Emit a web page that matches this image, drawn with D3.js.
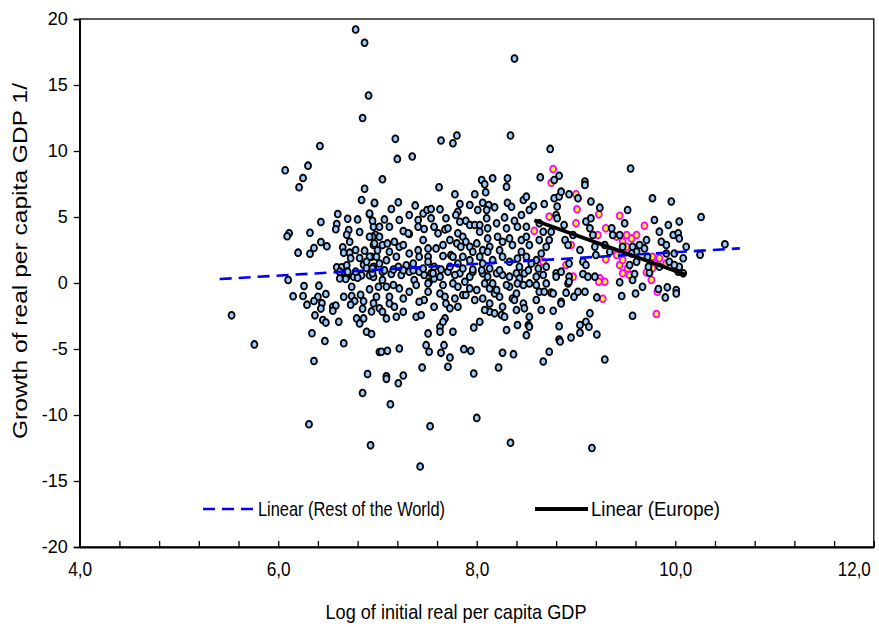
<!DOCTYPE html>
<html><head><meta charset="utf-8">
<script src="https://cdn.jsdelivr.net/npm/d3@7"></script>
<style>body{margin:0;background:#fff}svg{display:block}</style>
</head><body>
<svg id="c" width="879" height="627"></svg>
<script>
const xTicks = [4, 6, 8, 10, 12];
const yTicks = [-20, -15, -10, -5, 0, 5, 10, 15, 20];
const xTitle = "Log of initial real per capita GDP";
const yTitle = "Growth of real per capita GDP 1/";
const legendLabels = ["Linear (Rest of the World)", "Linear (Europe)"];

// Rest of the World: [log initial GDP, growth]
const rowPoints = [
[6.78,19.2],[6.87,18.2],[8.38,17.0],[6.91,14.2],[6.85,12.5],
[7.80,11.17],[8.34,11.17],[7.18,10.92],[7.64,10.79],[7.76,10.59],[7.20,9.40],[7.35,9.58],[8.74,10.16],
[6.42,10.38],[6.07,8.54],[6.30,8.89],[6.25,7.95],[6.21,7.25],[6.87,7.14],[6.84,6.29],[6.97,6.04],[6.60,5.23],[6.70,4.87],[6.80,4.82],[6.92,5.2],[6.43,4.62],[6.59,4.47],[6.58,4.07],[6.71,4.02],[6.82,3.86],[6.11,3.76],[6.09,3.54],[6.32,3.81],[6.96,4.27],[6.98,3.66],[6.69,3.66],[6.72,3.13],[6.43,3.1],[6.49,2.78],[6.36,2.65],[6.20,2.3],[6.32,2.22],[6.65,2.7],[6.66,2.3],[6.72,2.3],[6.78,2.5],[6.87,2.45],[6.96,2.88],[6.95,3.5],[6.73,1.87],[6.82,1.89],[6.94,1.99],[6.59,1.19],[6.64,1.19],[6.69,1.34],[6.86,1.39],[6.89,1.14],[6.96,1.23],[6.63,0.48],[6.69,0.48],[6.76,0.48],[6.84,0.58],[6.92,0.58],[6.10,0.23],
[6.26,-0.23],[6.41,-0.2],[6.15,-1.0],[6.25,-0.98],[6.40,-1.04],[6.48,-0.83],[6.29,-1.64],[6.36,-1.36],[6.44,-1.54],[6.43,-1.94],[6.37,-2.45],[6.55,-1.8],[6.58,-1.7],[6.55,-2.1],[6.45,-2.8],[6.48,-3.0],[6.61,-2.93],[6.66,-1.04],[6.74,-0.98],[6.77,-1.36],[6.73,-1.64],[6.83,-0.89],[6.86,-1.39],[6.92,-0.48],[6.96,-1.54],[6.85,-1.95],[6.94,-2.15],[6.79,-2.68],[6.86,-2.68],[6.82,-3.06],[6.89,-3.69],[6.94,-3.86],[5.53,-2.45],[5.76,-4.65],[6.34,-3.81],[6.47,-4.39],[6.66,-4.57],[6.36,-5.91],[7.02,-5.23],[6.90,-6.89],[6.85,-8.33],[6.31,-10.7],[6.70,0.86],[6.62,0.35],[6.68,0.30],[6.74,-0.28],[6.80,0.40],[6.96,0.45],[7.01,-0.28],
[6.95,0.73],[7.05,0.86],[7.14,0.68],[7.24,0.61],[7.32,0.86],[7.05,0.23],[7.09,-0.28],[7.16,-0.15],[7.22,-0.41],[7.02,-1.92],[7.05,-2.18],[7.09,-2.68],[7.12,-1.55],[7.17,-1.80],[7.19,-2.56],[7.26,-2.18],[7.26,-1.17],[7.32,-0.66],[7.37,0.23],[7.39,-0.15],[7.39,-2.56],[7.44,-2.43],[7.47,-1.29],[7.51,-0.66],[7.52,0.10],[7.54,0.73],[7.57,0.35],[7.63,-0.79],[7.63,-3.32],[7.63,-3.70],[7.51,-3.82],[7.68,-1.04],[7.69,-1.55],[7.68,-2.68],[7.66,-2.94],[7.73,-1.92],[7.76,-0.03],[7.76,-3.70],[7.81,-1.80],[7.81,-0.28],[7.83,0.73],[7.86,-0.91],[7.89,-0.91],[7.88,0.10],[7.93,0.48],[7.93,-0.41],[8.00,-0.53],[7.98,-1.29],[8.03,-2.94],[7.97,-3.37],[8.06,0.73],[8.08,-0.03],[8.13,-0.41],[8.16,-0.03],[8.18,-0.79],[8.20,-0.53],[8.13,-1.55],[8.13,-2.18],[8.18,-2.30],[8.23,-1.04],[8.25,-2.43],[8.28,-2.56],[8.30,-3.57],[8.33,0.48],[8.33,-0.28],[8.40,0.73],[8.43,0.35],[8.48,0.73],[8.53,-0.03],[8.60,0.48],[8.67,0.61],[8.70,-0.03],[8.63,-0.66],[8.68,-0.66],[8.40,-0.79],[8.36,-1.17],[8.40,-2.05],[8.47,-1.55],[8.48,-1.92],[8.53,-2.56],[8.52,-3.19],[8.53,-3.32],[8.50,-3.95],[8.41,-3.19],[8.38,-1.29],
[7.04,-5.21],[7.10,-5.14],[7.22,-4.96],[7.49,-4.71],[7.52,-5.21],[7.64,-5.29],[7.67,-4.71],[7.73,-5.64],[7.71,-6.35],[7.87,-5.01],[7.94,-5.14],[7.45,-6.40],[7.09,-7.06],[7.09,-7.26],[7.26,-7.01],[7.21,-7.59],[7.13,-9.19],[7.53,-10.85],[8.00,-10.22],[7.97,-6.86],[8.22,-6.40],[8.26,-5.29],[8.37,-5.39],[8.67,-5.95],[8.73,-5.21],
[6.93,-12.30],[7.43,-13.9],[8.34,-12.1],[9.16,-12.5],
[8.80,0.73],[8.80,0.48],[8.85,0.86],[8.93,0.48],[9.07,0.68],[9.12,0.48],[9.19,0.48],[9.44,0.05],[9.59,0.68],[9.57,0.23],[9.67,-0.28],[9.74,0.78],[9.83,-0.46],[9.92,-0.33],[9.90,-1.09],[10.01,-0.53],[10.01,-0.79],[10.03,0.86],[10.08,0.73],[8.75,-0.73],[8.77,-0.79],[8.90,-0.73],[8.92,-0.03],[8.93,0.10],[8.98,-1.04],[9.02,-0.66],[9.09,-0.66],[8.85,-1.42],[8.85,-1.55],[8.77,-2.10],[8.83,-3.27],[8.83,-4.28],[8.84,-4.43],[8.95,-4.13],[9.04,-3.77],[9.04,-3.19],[9.10,-2.94],[9.13,-3.32],[9.14,-2.30],[9.21,-3.90],[9.21,-1.09],[9.46,-0.99],[9.60,-0.79],[9.57,-2.48],[9.29,-5.80],
[7.05,7.86],[7.62,7.25],[8.05,7.80],[8.08,7.48],[8.16,7.93],[8.31,7.93],[8.30,7.30],[8.09,6.87],[8.64,8.01],[7.78,6.72],[7.98,6.72],[6.97,6.08],[7.21,6.11],[7.14,5.60],[7.38,5.88],[7.46,5.27],[7.50,5.53],[7.54,5.60],[7.63,5.58],[7.83,5.98],[7.81,5.40],[7.93,5.91],[8.06,6.08],[8.12,5.91],[8.18,5.73],[8.01,5.53],[8.10,5.53],[8.31,6.08],[8.35,5.78],[8.47,6.29],[8.50,6.54],[8.57,5.83],[8.68,5.98],
[6.92,5.27],[6.95,4.72],[7.07,4.82],[7.12,4.26],[7.26,3.93],[7.32,3.71],[7.41,4.77],[7.41,4.26],[7.47,4.09],[7.54,4.90],[7.57,4.26],[7.61,3.76],[7.68,4.06],[7.71,4.14],[7.79,5.15],[7.83,4.64],[7.89,4.72],[7.93,4.39],[7.98,4.39],[8.03,4.39],[8.10,4.90],[8.11,4.14],[8.03,3.88],[7.81,3.76],[7.86,3.50],[8.28,4.97],[8.30,4.14],[8.38,4.72],[8.41,4.26],[8.50,4.26],[8.53,5.53],
[6.92,3.50],[6.97,3.00],[7.02,3.50],[7.05,2.87],[7.10,3.00],[7.17,3.12],[7.12,2.37],[7.22,2.74],[7.26,2.87],[7.31,3.76],[7.41,2.49],[7.46,3.25],[7.51,2.62],[7.59,2.62],[7.66,2.87],[7.73,3.25],[7.74,2.11],[7.80,3.00],[7.84,2.74],[7.89,3.12],[7.93,2.74],[8.00,3.00],[8.06,2.49],[8.11,3.38],[8.13,2.74],[8.21,3.50],[8.26,3.12],[8.33,3.38],[8.36,2.87],[8.45,3.25],[8.50,3.50],[8.53,2.87],[8.63,3.25],[8.70,2.74],
[6.92,1.99],[6.99,1.99],[7.02,1.48],[7.09,1.73],[7.19,1.99],[7.21,1.23],[7.29,1.35],[7.36,1.48],[7.42,1.99],[7.51,1.99],[7.51,1.61],[7.57,1.23],[7.66,2.04],[7.76,1.99],[7.81,1.48],[7.86,1.99],[7.93,1.73],[8.03,1.99],[8.06,1.48],[8.11,2.37],[8.16,1.73],[8.26,1.99],[8.33,1.61],[8.41,1.86],[8.50,1.99],[8.60,1.73],[8.55,1.48],
[9.55,8.67],[8.83,8.13],[8.78,7.80],[9.09,7.68],[9.09,7.43],
[10.26,5.0],[10.25,2.14],[10.50,2.93],
[8.78,6.42],[8.83,6.55],[8.85,6.92],[8.93,6.72],[8.81,5.79],[8.80,5.15],[8.81,4.90],[8.75,3.89],[8.73,3.26],[8.89,3.26],[8.92,2.88],[8.97,3.64],[9.02,6.42],[9.10,4.65],[9.15,4.90],[9.14,4.14],[9.17,3.64],[9.19,2.75],[9.15,6.17],[9.24,5.71],[9.07,1.61],[9.10,1.36],[8.93,1.48],[9.29,2.88],[9.34,2.37],[9.36,4.14],[9.37,3.64],[9.44,3.64],[9.47,2.75],[9.49,4.52],[9.52,5.53],[9.54,1.36],[9.57,2.75],[9.61,1.61],[9.64,2.88],[9.69,2.62],[9.71,3.26],[9.73,1.23],[9.77,6.42],[9.79,4.77],[9.84,3.89],[9.86,3.13],[9.91,2.88],[9.91,2.24],[9.94,1.61],[9.96,6.17],[9.98,3.64],[10.03,3.76],[10.04,3.38],[10.11,2.75],[10.04,1.23],[9.84,1.23],[9.99,1.36],
[7.42,0.86],[7.47,0.61],[7.56,0.73],[7.63,0.48],[7.71,0.86],[7.78,0.61],[7.96,0.86],[8.11,0.48],[8.20,0.73],[8.26,0.61],[7.51,-0.03],[7.66,-0.15],[8.30,-0.15],[8.41,-0.03],[8.47,-0.15],[8.60,-0.15],
[6.95,1.10],[7.07,0.97],[7.16,1.02],[7.26,0.97],[7.36,0.97],[7.46,1.10],[7.64,1.02],[7.73,1.23],[7.86,1.10],[7.96,1.02],[8.05,0.97],[8.13,1.10],[8.23,0.97],[8.43,1.23],[8.52,0.97],[8.62,1.10],[8.70,1.23],
[7.02,4.26],[7.22,4.77],[7.32,5.15],[7.69,4.90],[8.20,4.52],[8.45,5.15],[8.63,4.52],[8.67,3.88],
[7.00,2.49],[7.32,2.24],[7.96,2.37],[8.23,2.49],[8.45,2.37],[8.65,2.24],
[8.88,4.39],[9.04,2.50],[9.20,2.12],[9.61,2.37],[9.72,1.99],[9.99,2.24],[10.08,1.87],[9.93,4.39],[10.04,4.65],[9.56,2.24],
[6.62,0.86],[6.78,0.86],[6.89,1.61],
[6.99,-1.04],[7.12,-1.04],[7.42,-1.42],[7.57,-1.80],[7.78,-1.17],[8.06,-1.17],[8.08,-2.05],[8.26,-1.80],[8.60,-1.29],[8.65,-2.05]
];

// Europe: [log initial GDP, growth]
const eurPoints = [
[8.97,0.48],[9.24,0.35],[9.29,0.10],[9.23,0.10],[9.47,0.73],[9.54,0.61],[9.76,0.23],[9.82,-0.66],[9.27,-1.19],[9.81,-2.35],[9.71,0.80],
[8.77,8.64],[8.75,7.60],[8.58,3.96],[8.67,1.61],
[8.73,5.03],[9.00,6.72],[9.01,5.58],[9.00,4.52],[8.95,2.88],[9.23,5.20],[9.22,3.64],[9.30,4.14],[9.44,5.10],[9.41,3.51],[9.51,3.64],[9.56,3.38],[9.61,3.64],[9.69,4.34],[9.47,3.13],[9.51,2.75],[9.41,2.12],[9.44,1.36],[9.52,1.11],[9.47,1.74],[9.77,1.99],[9.79,1.49],[9.91,1.49],[9.77,1.11],[9.84,1.87],[8.90,1.36],[9.30,1.79]
];

// Linear trend lines (end points as drawn)
const rowTrend = [[5.41, 0.30], [10.65, 2.62]];
const eurTrend = [[8.58, 4.75], [10.10, 0.65]];

const svg = d3.select("#c");
const x = d3.scaleLinear().domain([4, 12]).range([79.7, 873.8]);
const y = d3.scaleLinear().domain([-20, 20]).range([547, 19]);
const narrow = "'Liberation Sans Narrow','Arial Narrow','Liberation Sans',sans-serif";
const regular = "'Liberation Sans',Arial,sans-serif";

// Plot frame
svg.append("rect")
  .attr("x", x(4)).attr("y", y(20))
  .attr("width", x(12) - x(4)).attr("height", y(-20) - y(20))
  .attr("fill", "none").attr("stroke", "#000").attr("stroke-width", 1.3);

// X axis: minor ticks inside
const minorTicks = d3.range(0, 21).map(i => 4 + i * 0.4);
const gx = svg.append("g").attr("transform", `translate(0,${y(-20)})`)
  .call(d3.axisBottom(x).tickValues(minorTicks).tickSize(-6).tickSizeOuter(0).tickFormat(""));
gx.select(".domain").attr("stroke-width", 2);
gx.selectAll(".tick line").attr("stroke-width", 1.3);

const gxl = svg.append("g").attr("transform", `translate(0,${y(-20)})`)
  .call(d3.axisBottom(x).tickValues(xTicks).tickSize(0).tickPadding(22)
    .tickFormat(d => d.toFixed(1).replace(".", ",")));
gxl.select(".domain").remove();
gxl.selectAll("text").attr("font-family", narrow).attr("font-size", 21).attr("fill", "#000")
  .attr("dy", "0.35em")
  .attr("textLength", d => d >= 10 ? 33 : 24).attr("lengthAdjust", "spacingAndGlyphs");
gxl.selectAll(".tick").filter(d => d === 12).select("text").attr("dx", -20);

// Y axis
const gy = svg.append("g").attr("transform", `translate(${x(4)},0)`)
  .call(d3.axisLeft(y).tickValues(yTicks).tickSize(6).tickPadding(6).tickFormat(d => String(d)));
gy.select(".domain").attr("stroke-width", 1.5);
gy.selectAll(".tick line").attr("stroke-width", 1.3);
gy.selectAll("text").attr("font-family", regular).attr("font-size", 18).attr("fill", "#000");

// Axis titles
svg.append("text").attr("x", 456).attr("y", 619).attr("text-anchor", "middle")
  .attr("font-family", narrow).attr("font-size", 21)
  .attr("textLength", 261).attr("lengthAdjust", "spacingAndGlyphs").text(xTitle);
svg.append("text").attr("transform", "translate(27,261) rotate(-90)").attr("text-anchor", "middle")
  .attr("font-family", regular).attr("font-size", 21)
  .attr("textLength", 356).attr("lengthAdjust", "spacingAndGlyphs").text(yTitle);

// Points
const pts = svg.append("g");
pts.selectAll(".eur").data(eurPoints).join("ellipse").attr("class", "eur")
  .attr("cx", d => x(d[0])).attr("cy", d => y(d[1])).attr("rx", 3.0).attr("ry", 3.4)
  .attr("fill", "#FFFF00").attr("stroke", "#FF00FF").attr("stroke-width", 1.8);
pts.selectAll(".row").data(rowPoints).join("ellipse").attr("class", "row")
  .attr("cx", d => x(d[0])).attr("cy", d => y(d[1])).attr("rx", 3.0).attr("ry", 3.4)
  .attr("fill", "#99CCFF").attr("stroke", "#000").attr("stroke-width", 1.8);

// Trend lines
const line = d3.line().x(d => x(d[0])).y(d => y(d[1]));
svg.append("path").datum(rowTrend).attr("d", line).attr("fill", "none")
  .attr("stroke", "#0000FF").attr("stroke-width", 2.6).attr("stroke-dasharray", "12,7");
svg.append("path").datum(eurTrend).attr("d", line).attr("fill", "none")
  .attr("stroke", "#000").attr("stroke-width", 3.8);

// Legend
const lg = svg.append("g");
lg.append("line").attr("x1", 203).attr("x2", 255).attr("y1", 509).attr("y2", 509)
  .attr("stroke", "#0000FF").attr("stroke-width", 2.6).attr("stroke-dasharray", "12,7");
lg.append("text").attr("x", 258).attr("y", 516).attr("font-family", narrow).attr("font-size", 21)
  .attr("textLength", 187).attr("lengthAdjust", "spacingAndGlyphs").text(legendLabels[0]);
lg.append("line").attr("x1", 535).attr("x2", 588).attr("y1", 509).attr("y2", 509)
  .attr("stroke", "#000").attr("stroke-width", 4);
lg.append("text").attr("x", 591).attr("y", 516).attr("font-family", narrow).attr("font-size", 21)
  .attr("textLength", 129).attr("lengthAdjust", "spacingAndGlyphs").text(legendLabels[1]);
</script>
</body></html>
